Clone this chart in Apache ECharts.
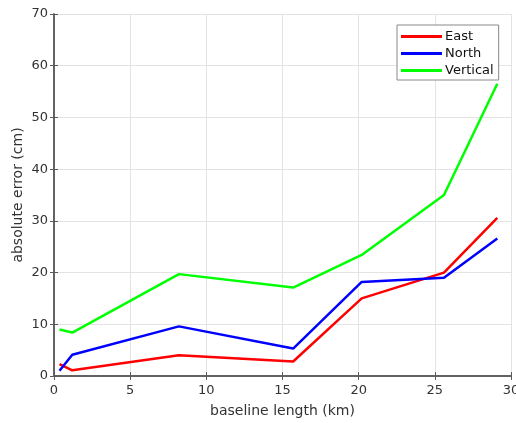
<!DOCTYPE html>
<html><head><meta charset="utf-8">
<script src="https://cdn.jsdelivr.net/npm/echarts@6/dist/echarts.min.js"></script>
<style>html,body{margin:0;padding:0;background:#fff}#c{width:516px;height:423px}</style>
</head><body><div id="c"></div>
<script>
const baseline = [0.36, 1.2, 8.2, 15.7, 20.2, 25.6, 29.1];
const east = [2.3, 1.1, 4.0, 2.8, 15.0, 20.0, 30.6];
const north = [1.0, 4.1, 9.6, 5.3, 18.2, 19.0, 26.6];
const vertical = [9.0, 8.4, 19.7, 17.1, 23.4, 35.0, 56.5];
const seriesNames = ['East', 'North', 'Vertical'];
const seriesColors = ['#ff0000', '#0000ff', '#00ff00'];
const seriesValues = [east, north, vertical];

const chart = echarts.init(document.getElementById('c'));
const axisColor = '#5a5a5a';
const labelStyle = {color: '#333', fontSize: 13, fontFamily: 'DejaVu Sans'};
chart.setOption({
  animation: false,
  grid: {left: 54, right: 5, top: 14, bottom: 47, containLabel: false, outerBoundsMode: 'none'},
  legend: {
    orient: 'vertical', left: 397, top: 25, backgroundColor: '#fff',
    borderColor: '#888', borderWidth: 1, padding: [5, 5, 3, 4], itemGap: 4,
    itemWidth: 41, itemHeight: 3, icon: 'rect',
    textStyle: {fontSize: 13, fontFamily: 'DejaVu Sans', color: '#111', padding: [0,0,0,-2]},
    data: seriesNames
  },
  xAxis: [{
    type: 'value', min: 0, max: 30, interval: 5,
    name: 'baseline length (km)', nameLocation: 'middle', nameGap: 28, nameMoveOverlap: false,
    nameTextStyle: {fontSize: 14, fontFamily: 'DejaVu Sans', color: '#333'},
    axisLine: {show: true, lineStyle: {color: axisColor, width: 1.5}},
    axisTick: {show: true, inside: true, length: 4, lineStyle: {color: axisColor}},
    axisLabel: Object.assign({margin: 8}, labelStyle),
    splitLine: {show: true, lineStyle: {color: '#e3e3e3', width: 1}}
  }, {
    type: 'value', min: 0, max: 30, interval: 5, position: 'top',
    axisLine: {show: true, lineStyle: {color: axisColor, width: 1.5}},
    axisTick: {show: true, inside: true, length: 4, lineStyle: {color: axisColor}},
    axisLabel: {show: false}, splitLine: {show: false}
  }],
  yAxis: [{
    type: 'value', min: 0, max: 70, interval: 10,
    name: 'absolute error (cm)', nameLocation: 'middle', nameGap: 29, nameMoveOverlap: false,
    nameTextStyle: {fontSize: 14, fontFamily: 'DejaVu Sans', color: '#333'},
    axisLine: {show: true, lineStyle: {color: axisColor, width: 1.5}},
    axisTick: {show: true, inside: true, length: 4, lineStyle: {color: axisColor}},
    axisLabel: Object.assign({margin: 6}, labelStyle),
    splitLine: {show: true, lineStyle: {color: '#e3e3e3', width: 1}}
  }, {
    type: 'value', min: 0, max: 70, interval: 10, position: 'right',
    axisLine: {show: true, lineStyle: {color: axisColor, width: 1.5}},
    axisTick: {show: true, inside: true, length: 4, lineStyle: {color: axisColor}},
    axisLabel: {show: false}, splitLine: {show: false}
  }],
  series: seriesNames.map((n, i) => ({
    name: n, type: 'line', showSymbol: false, symbol: 'none',
    color: seriesColors[i],
    lineStyle: {color: seriesColors[i], width: 2.5},
    data: baseline.map((x, j) => [x, seriesValues[i][j]])
  }))
});
</script></body></html>
